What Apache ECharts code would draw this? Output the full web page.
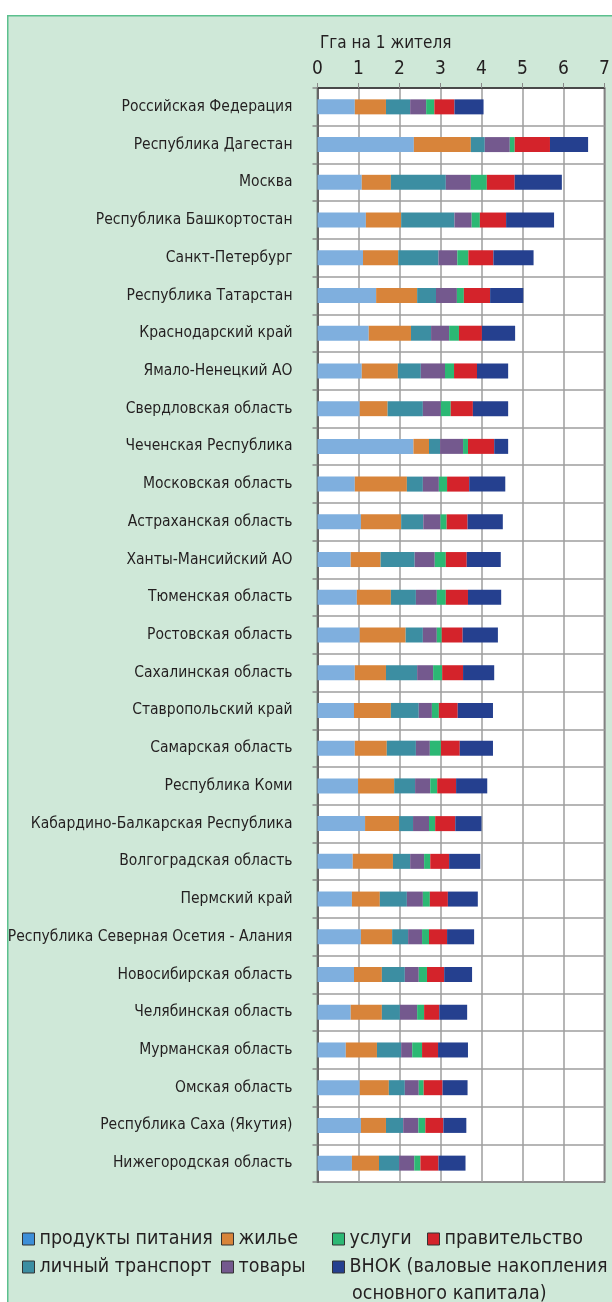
<!DOCTYPE html>
<html>
<head>
<meta charset="utf-8">
<script src="https://cdn.jsdelivr.net/npm/echarts@6/dist/echarts.min.js"></script>
<style>
  html, body { margin: 0; padding: 0; background: #fff; }
  #chart { width: 612px; height: 1302px; }
</style>
</head>
<body>
<div id="chart"></div>
<script>
const regions = [
  'Российская Федерация', 'Республика Дагестан', 'Москва', 'Республика Башкортостан',
  'Санкт-Петербург', 'Республика Татарстан', 'Краснодарский край', 'Ямало-Ненецкий АО',
  'Свердловская область', 'Чеченская Республика', 'Московская область', 'Астраханская область',
  'Ханты-Мансийский АО', 'Тюменская область', 'Ростовская область', 'Сахалинская область',
  'Ставропольский край', 'Самарская область', 'Республика Коми', 'Кабардино-Балкарская Республика',
  'Волгоградская область', 'Пермский край', 'Республика Северная Осетия - Алания',
  'Новосибирская область', 'Челябинская область', 'Мурманская область', 'Омская область',
  'Республика Саха (Якутия)', 'Нижегородская область'
]

const food      = [0.91, 2.35, 1.08, 1.18, 1.11, 1.43, 1.25, 1.08, 1.03, 2.34, 0.91, 1.06, 0.81, 0.96, 1.03, 0.91, 0.89, 0.91, 0.99, 1.16, 0.86, 0.84, 1.06, 0.89, 0.81, 0.69, 1.03, 1.06, 0.84]
const housing   = [0.76, 1.39, 0.71, 0.86, 0.86, 1.00, 1.03, 0.88, 0.68, 0.38, 1.27, 0.98, 0.73, 0.83, 1.12, 0.76, 0.90, 0.78, 0.88, 0.83, 0.98, 0.68, 0.76, 0.68, 0.76, 0.76, 0.71, 0.61, 0.66]
const transport = [0.59, 0.34, 1.34, 1.30, 0.98, 0.46, 0.49, 0.56, 0.86, 0.27, 0.39, 0.54, 0.83, 0.61, 0.42, 0.76, 0.68, 0.71, 0.51, 0.34, 0.42, 0.66, 0.39, 0.56, 0.44, 0.59, 0.39, 0.42, 0.49]
const goods     = [0.39, 0.61, 0.61, 0.42, 0.46, 0.51, 0.44, 0.59, 0.44, 0.56, 0.39, 0.42, 0.49, 0.51, 0.34, 0.39, 0.32, 0.34, 0.37, 0.39, 0.34, 0.39, 0.34, 0.34, 0.42, 0.27, 0.34, 0.37, 0.37]
const services  = [0.20, 0.12, 0.39, 0.20, 0.27, 0.17, 0.24, 0.22, 0.24, 0.12, 0.20, 0.15, 0.27, 0.22, 0.12, 0.22, 0.17, 0.27, 0.17, 0.15, 0.15, 0.17, 0.17, 0.20, 0.17, 0.24, 0.12, 0.17, 0.15]
const government= [0.49, 0.86, 0.68, 0.64, 0.61, 0.64, 0.56, 0.56, 0.54, 0.64, 0.54, 0.51, 0.51, 0.54, 0.51, 0.51, 0.46, 0.46, 0.46, 0.49, 0.46, 0.44, 0.44, 0.42, 0.37, 0.39, 0.46, 0.44, 0.44]
const gfcf      = [0.71, 0.93, 1.15, 1.17, 0.98, 0.81, 0.81, 0.76, 0.86, 0.34, 0.88, 0.86, 0.83, 0.81, 0.86, 0.76, 0.86, 0.81, 0.76, 0.64, 0.76, 0.73, 0.66, 0.68, 0.68, 0.73, 0.61, 0.56, 0.66]

const seriesNames = ['продукты питания', 'жилье', 'личный транспорт', 'товары', 'услуги', 'правительство', 'ВНОК (валовые накопления основного капитала)']
const seriesData = [food, housing, transport, goods, services, government, gfcf]
const colors = ['#7fafde', '#d8843a', '#3c8ea2', '#74598e', '#2cb874', '#d4232b', '#25408f']
const legendColors = ['#3d8fd8', '#d8843a', '#3c8ea2', '#74598e', '#2cb874', '#d4232b', '#25408f']
const xTicks = [0, 1, 2, 3, 4, 5, 6, 7]

const FONT = '"Liberation Sans Narrow", "DejaVu Sans Condensed", sans-serif'
const TEXT = '#231f20'

// legend item positions: [left, top]
const legendPos = [[22, 1229], [221, 1229], [22, 1257], [221, 1257], [332, 1229], [427, 1229], [332, 1257]]

const chart = echarts.init(document.getElementById('chart'))

chart.setOption({
  backgroundColor: '#fff',
  animation: false,
  textStyle: { fontFamily: FONT },
  graphic: [
    {
      type: 'rect', left: 7, top: 15, z: -10,
      shape: { width: 620, height: 1300 },
      style: { fill: '#cfe8d8', stroke: '#5cc08e', lineWidth: 1.5 }
    },
    {
      type: 'text', left: 352, top: 1284,
      style: { text: 'основного капитала)', font: '19.5px ' + FONT, fill: TEXT }
    }
  ],
  title: {
    text: 'Гга на 1 жителя',
    left: 315, top: 30,
    textStyle: { fontSize: 17, fontWeight: 'normal', color: TEXT, fontFamily: FONT }
  },
  legend: seriesNames.map((n, i) => ({
    data: [n],
    left: legendPos[i][0], top: legendPos[i][1],
    padding: 0,
    selectedMode: false,
    icon: 'rect', itemWidth: 12, itemHeight: 12,
    itemStyle: { color: legendColors[i], borderColor: '#333', borderWidth: 1 },
    textStyle: { fontSize: 19.5, color: TEXT, fontFamily: FONT },
    formatter: name => name.startsWith('ВНОК') ? 'ВНОК (валовые накопления' : name
  })),
  grid: {
    left: 317.5, right: 7.5, top: 88, bottom: 120,
    containLabel: false, outerBoundsMode: 'none',
    show: true, backgroundColor: '#fff', borderColor: '#333', borderWidth: 1.5
  },
  xAxis: {
    type: 'value', position: 'top',
    min: xTicks[0], max: xTicks[xTicks.length - 1], interval: 1,
    axisLine: { show: true, lineStyle: { color: '#333', width: 1.5 } },
    axisTick: { show: true, length: 5, lineStyle: { color: '#888' } },
    axisLabel: { fontSize: 19, color: TEXT, margin: 9, fontFamily: FONT },
    splitLine: { show: true, lineStyle: { color: '#9e9e9e', width: 1.5 } }
  },
  yAxis: {
    type: 'category', inverse: true, data: regions,
    axisLine: { show: true, lineStyle: { color: '#666', width: 2 } },
    axisTick: { show: true, length: 5, lineStyle: { color: '#888', width: 1.5 } },
    axisLabel: { fontSize: 15.5, color: TEXT, margin: 25, fontFamily: FONT },
    splitLine: { show: true, lineStyle: { color: '#9e9e9e', width: 1.5 } }
  },
  series: seriesNames.map((n, i) => ({
    name: n, type: 'bar', stack: 'total',
    data: seriesData[i],
    barWidth: 15,
    itemStyle: { color: colors[i] }
  }))
})
</script>
</body>
</html>
